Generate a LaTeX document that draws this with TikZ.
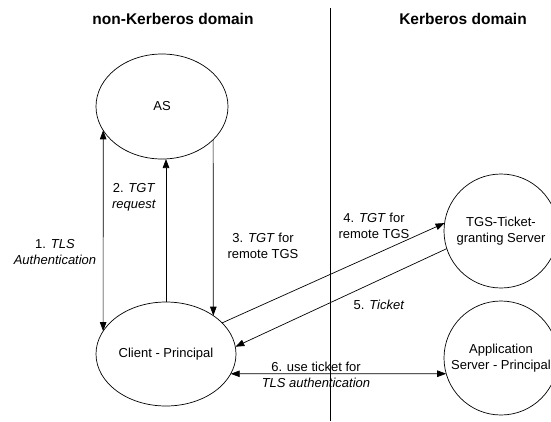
\documentclass[tikz,border=0pt]{standalone}
\usepackage{fontspec}
\setmainfont{Liberation Sans}
\usetikzlibrary{arrows.meta, shapes.geometric}

\begin{document}
\begin{tikzpicture}[x=1pt, y=-1pt,
  every node/.style={font=\fontsize{13}{16}\selectfont},
  ent/.style={draw, ellipse, inner sep=0pt, outer sep=0pt, line width=0.7pt},
  lbl/.style={align=center, inner sep=0pt},
  title/.style={font=\fontsize{15.5}{18}\selectfont\bfseries},
  arr/.style={line width=0.7pt, -{Triangle[length=9pt,width=6.5pt]}},
  darr/.style={line width=0.7pt, {Triangle[length=9pt,width=6.5pt]}-{Triangle[length=9pt,width=6.5pt]}}
]
\useasboundingbox (0,0) rectangle (551,421);
% Domain titles and divider
\node[title] (nkd) at (173,19) {non-Kerberos domain};
\node[title] (kd) at (463,19) {Kerberos domain};
\coordinate (divtop) at (330,8);
\coordinate (divbot) at (330,421);
\draw[line width=0.9pt] (divtop) -- (divbot);
% Entities
\node[ent, minimum width=132, minimum height=105,
  label={[lbl]center:AS}] (as) at (162,106.5) {};
\node[ent, minimum width=140, minimum height=104,
  label={[lbl]center:Client - Principal}] (client) at (166,354) {};
\node[ent, minimum width=114, minimum height=114,
  label={[lbl]center:TGS-Ticket-\\granting Server}] (tgs) at (501,231) {};
\node[ent, minimum width=114, minimum height=114,
  label={[lbl]center:Application\\Server - Principal}] (app) at (501,358) {};
% Connectors
\draw[darr] (as.202) -- (client.160);
\draw[arr] (client.north) -- (client.north |- as.south);
\draw[arr] (as.327) -- (client.39);
\draw[arr] (client.29) -- (tgs.172);
\draw[arr] (tgs.198) -- (client.6);
\draw[darr] (client.-17) -- (app.196);
% Step labels
\node[lbl] (l1) at (55,252.5) {1. \textit{TLS}\\\textit{Authentication}};
\node[lbl] (l2) at (134,197) {2. \textit{TGT}\\\textit{request}};
\node[lbl] (l3) at (263,246) {3. \textit{TGT} for\\remote TGS};
\node[lbl] (l4) at (374,226) {4. \textit{TGT} for\\remote TGS};
\node[lbl] (l5) at (379,305) {5. \textit{Ticket}};
\node[lbl] (l6) at (316,375) {6. use ticket for\\\textit{TLS authentication}};
\end{tikzpicture}
\end{document}
